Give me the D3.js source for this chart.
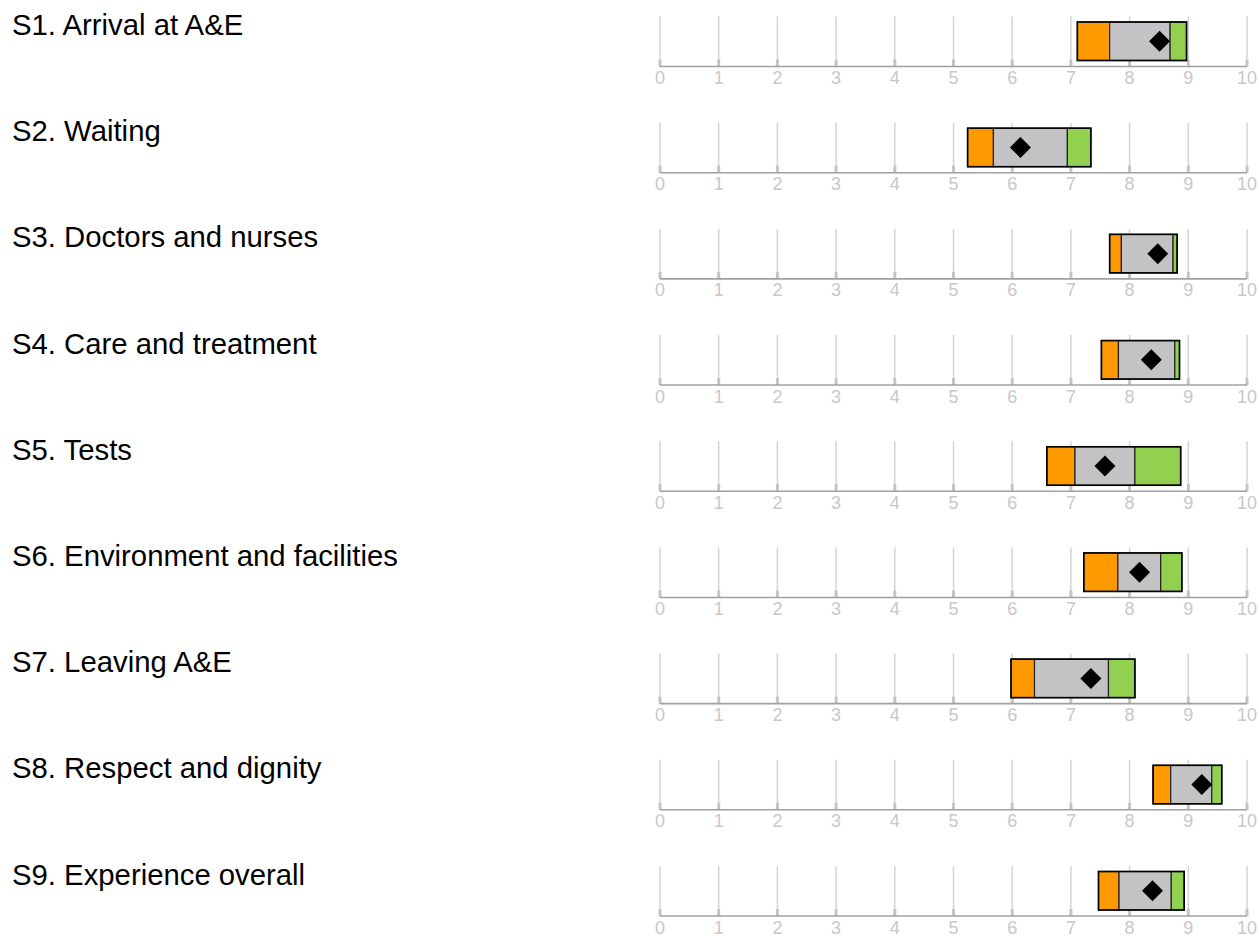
<!DOCTYPE html>
<html>
<head>
<meta charset="utf-8">
<script src="https://cdn.jsdelivr.net/npm/d3@7"></script>
<style>
  html, body { margin: 0; padding: 0; background: #fff; }
  svg { display: block; }
</style>
</head>
<body>
<svg id="chart" width="1259" height="936"></svg>
<script>
// ---- Data ----
const sections = [
  "S1. Arrival at A&E",
  "S2. Waiting",
  "S3. Doctors and nurses",
  "S4. Care and treatment",
  "S5. Tests",
  "S6. Environment and facilities",
  "S7. Leaving A&E",
  "S8. Respect and dignity",
  "S9. Experience overall"
];
// lowest trust score (start of orange band)
const rangeMin   = [7.11, 5.24, 7.66, 7.52, 6.59, 7.22, 5.98, 8.40, 7.47];
// start of the "about the same" (grey) band
const aboutStart = [7.66, 5.68, 7.86, 7.81, 7.07, 7.80, 6.38, 8.70, 7.82];
// start of the "better" (green) band
const betterStart= [8.69, 6.94, 8.74, 8.77, 8.09, 8.53, 7.64, 9.40, 8.71];
// highest trust score (end of green band)
const rangeMax   = [8.97, 7.34, 8.81, 8.85, 8.87, 8.89, 8.09, 9.57, 8.93];
// this trust's score (diamond)
const trustScore = [8.51, 6.14, 8.48, 8.37, 7.58, 8.17, 7.34, 9.23, 8.39];
const tickValues = [0,1,2,3,4,5,6,7,8,9,10];

// ---- Layout ----
const svg = d3.select("#chart");
const x = d3.scaleLinear().domain([0, 10]).range([660, 1247]);
const panelY = d3.scaleLinear().domain([0, 8]).range([66.5, 916]); // axis baseline per panel

const colors = { low: "#FF9900", mid: "#C3C3C5", high: "#92D050" };

sections.forEach((name, i) => {
  const y0 = panelY(i);
  const g = svg.append("g");

  // section label
  g.append("text")
    .attr("x", 12).attr("y", y0 - 31.5)
    .attr("font-family", "Liberation Sans, Arial, sans-serif")
    .attr("font-size", 29.3)
    .attr("fill", "#000")
    .text(name);

  // gridlines
  g.selectAll("line.grid").data(tickValues).enter().append("line")
    .attr("x1", d => x(d)).attr("x2", d => x(d))
    .attr("y1", y0 - 50).attr("y2", y0)
    .attr("stroke", "#d4d4d4").attr("stroke-width", 1.5);

  // tick stubs
  g.selectAll("line.stub").data(tickValues).enter().append("line")
    .attr("x1", d => x(d)).attr("x2", d => x(d))
    .attr("y1", y0 - 7).attr("y2", y0)
    .attr("stroke", "#c4c4c4").attr("stroke-width", 3);

  // axis line
  g.append("line")
    .attr("x1", x(0)).attr("x2", x(10))
    .attr("y1", y0).attr("y2", y0)
    .attr("stroke", "#a0a0a0").attr("stroke-width", 1.6);

  // tick labels
  g.selectAll("text.tick").data(tickValues).enter().append("text")
    .attr("x", d => x(d)).attr("y", y0 + 17.5)
    .attr("text-anchor", "middle")
    .attr("font-family", "Liberation Sans, Arial, sans-serif")
    .attr("font-size", 18)
    .attr("fill", "#c8c8c8")
    .text(d => d);

  // bands
  const top = y0 - 44.5, h = 38.5;
  const bands = [
    { a: rangeMin[i], b: aboutStart[i], c: colors.low },
    { a: aboutStart[i], b: betterStart[i], c: colors.mid },
    { a: betterStart[i], b: rangeMax[i], c: colors.high }
  ];
  g.selectAll("rect.band").data(bands).enter().append("rect")
    .attr("x", d => x(d.a)).attr("y", top)
    .attr("width", d => x(d.b) - x(d.a)).attr("height", h)
    .attr("fill", d => d.c)
    .attr("stroke", "#222").attr("stroke-width", 1.2);
  // outer outline
  g.append("rect")
    .attr("x", x(rangeMin[i])).attr("y", top)
    .attr("width", x(rangeMax[i]) - x(rangeMin[i])).attr("height", h)
    .attr("fill", "none").attr("stroke", "#000").attr("stroke-width", 1.6);

  // diamond
  const cx = x(trustScore[i]), cy = top + h / 2, r = 10.5;
  g.append("path")
    .attr("d", `M${cx},${cy - r}L${cx + r},${cy}L${cx},${cy + r}L${cx - r},${cy}Z`)
    .attr("fill", "#000");
});
</script>
</body>
</html>
